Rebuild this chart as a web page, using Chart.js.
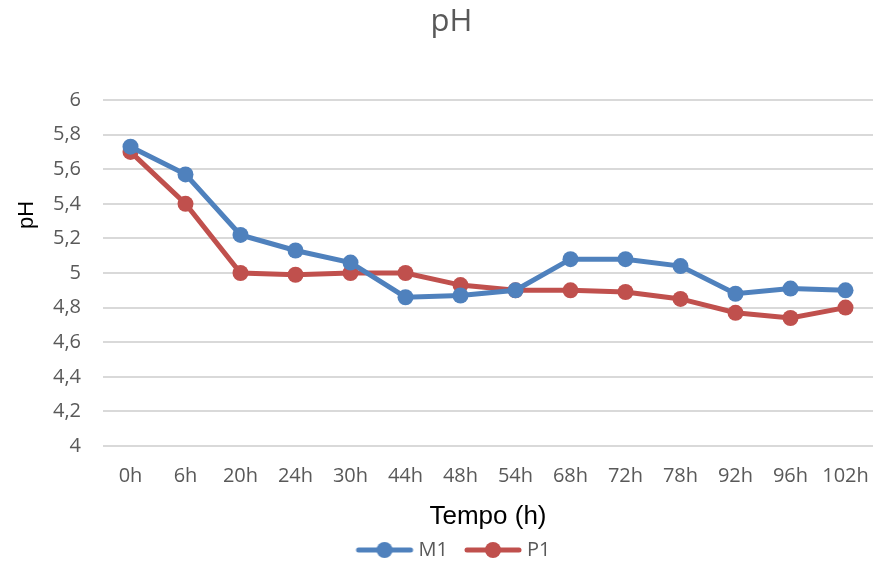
<!DOCTYPE html>
<html>
<head>
<meta charset="utf-8">
<script src="https://cdn.jsdelivr.net/npm/chart.js@4/dist/chart.umd.min.js"></script>
<style>
  html, body { margin: 0; padding: 0; background: #ffffff; }
  #wrap { width: 875px; height: 565px; }
</style>
</head>
<body>
<div id="wrap"><canvas id="c" width="875" height="565"></canvas></div>
<script>
const categories = ['0h','6h','20h','24h','30h','44h','48h','54h','68h','72h','78h','92h','96h','102h'];
const seriesM1 = [5.73, 5.57, 5.22, 5.13, 5.06, 4.86, 4.87, 4.90, 5.08, 5.08, 5.04, 4.88, 4.91, 4.90];
const seriesP1 = [5.70, 5.40, 5.00, 4.99, 5.00, 5.00, 4.93, 4.90, 4.90, 4.89, 4.85, 4.77, 4.74, 4.80];
const yMin = 4, yMax = 6, yStep = 0.2;
const chartTitle = 'pH';
const xTitle = 'Tempo (h)';
const yTitle = 'pH';

const BLUE = '#4F81BD';
const RED = '#C0504D';
const FONT = "'Open Sans', 'Noto Sans', sans-serif";

function legendMarker(color) {
  const cv = document.createElement('canvas');
  cv.width = 68; cv.height = 18;
  const g = cv.getContext('2d');
  g.strokeStyle = color; g.lineWidth = 5; g.lineCap = 'round';
  g.beginPath(); g.moveTo(12, 9); g.lineTo(64, 9); g.stroke();
  g.fillStyle = color;
  g.beginPath(); g.arc(38, 9, 8, 0, Math.PI * 2); g.fill();
  return cv;
}
const markers = [legendMarker(BLUE), legendMarker(RED)];

const yTitlePlugin = {
  id: 'yTitlePlugin',
  afterDraw(chart) {
    const ctx = chart.ctx;
    ctx.save();
    ctx.translate(27, 215);
    ctx.rotate(-Math.PI / 2);
    ctx.font = "22px 'Liberation Sans', Arial, sans-serif";
    ctx.fillStyle = '#000000';
    ctx.textAlign = 'center';
    ctx.textBaseline = 'middle';
    ctx.fillText(yTitle, 0, 0);
    ctx.restore();
  }
};

new Chart(document.getElementById('c'), {
  type: 'line',
  data: {
    labels: categories,
    datasets: [
      { label: 'M1', data: seriesM1, borderColor: BLUE, backgroundColor: BLUE,
        borderWidth: 5, pointRadius: 8, pointHoverRadius: 8, pointBorderWidth: 0,
        pointStyle: 'circle', tension: 0, fill: false },
      { label: 'P1', data: seriesP1, borderColor: RED, backgroundColor: RED,
        borderWidth: 5, pointRadius: 8, pointHoverRadius: 8, pointBorderWidth: 0,
        pointStyle: 'circle', tension: 0, fill: false }
    ]
  },
  options: {
    responsive: false,
    animation: false,
    devicePixelRatio: 1,
    layout: { autoPadding: false, padding: { left: 30, right: 2, top: 0, bottom: -5 } },
    plugins: {
      tooltip: { enabled: false },
      title: {
        display: true, text: chartTitle, color: '#595959',
        font: { family: FONT, size: 31, weight: 'normal', lineHeight: 1.2 },
        padding: { top: 4, bottom: 58.8 }
      },
      legend: {
        position: 'bottom',
        labels: {
          color: '#595959',
          font: { family: FONT, size: 20 },
          usePointStyle: true,
          pointStyleWidth: 56,
          boxHeight: 20,
          padding: 13,
          generateLabels(chart) {
            const items = Chart.defaults.plugins.legend.labels.generateLabels(chart);
            items.forEach((it, i) => { it.pointStyle = markers[i]; });
            return items;
          }
        }
      }
    },
    scales: {
      x: {
        offset: true,
        afterFit(scale) { scale.height = 81; scale.paddingLeft = 0; scale.paddingRight = 0; },
        grid: { display: true, drawOnChartArea: false, drawTicks: true, tickLength: 16, color: 'rgba(0,0,0,0)', offset: true },
        border: { display: false },
        ticks: { color: '#595959', font: { family: FONT, size: 20 }, padding: 2, maxRotation: 0, autoSkip: false },
        title: { display: true, text: xTitle, color: '#000000',
          font: { family: "'Liberation Sans', Arial, sans-serif", size: 26 }, padding: { top: 0, bottom: -5 } }
      },
      y: {
        min: yMin, max: yMax,
        afterFit(scale) { scale.width = 73; },
        grid: { color: '#D9D9D9', lineWidth: 2, drawTicks: false },
        border: { display: false },
        ticks: {
          stepSize: yStep, color: '#595959', font: { family: FONT, size: 20 }, padding: 22,
          callback: (v) => String(Number(v.toFixed(1))).replace('.', ',')
        }
      }
    }
  },
  plugins: [yTitlePlugin]
});
</script>
</body>
</html>
